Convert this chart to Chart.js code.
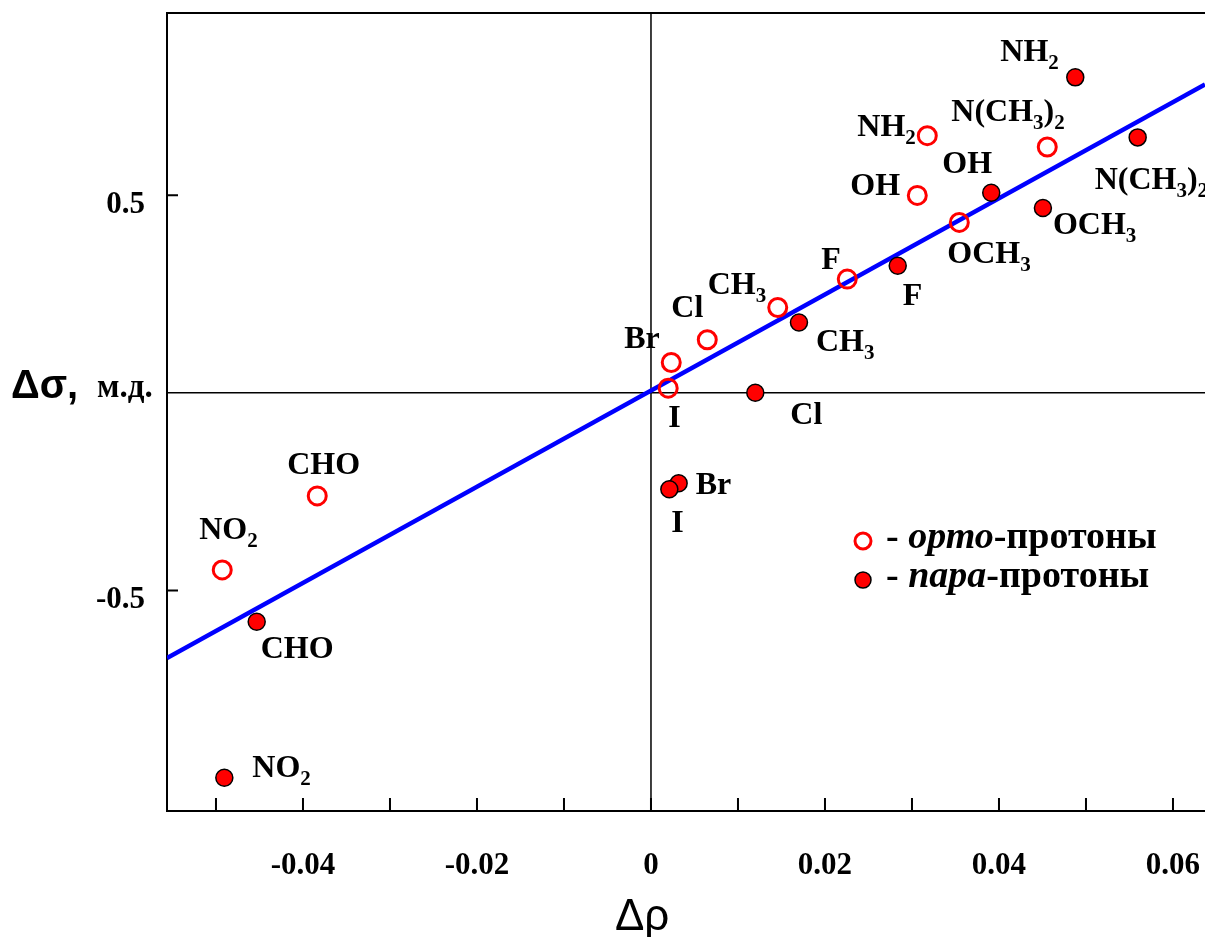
<!DOCTYPE html>
<html><head><meta charset="utf-8">
<script src="https://cdn.jsdelivr.net/npm/chart.js@4.4.0/dist/chart.umd.min.js"></script>
<style>html,body{margin:0;padding:0;background:#fff;overflow:hidden}canvas{display:block}</style>
</head><body>
<canvas id="c" width="1205" height="937"></canvas>
<script>
// ---- data ----
const substituents = ['NH_2','N(CH_3)_2','OH','OCH_3','F','CH_3','Cl','Br','I','CHO','NO_2'];
const orthoX = [0.03176, 0.04555, 0.03061, 0.03544, 0.02256, 0.01457, 0.00647, 0.00233, 0.00198, -0.03836, -0.04928];
const orthoY = [0.6506, 0.622, 0.4995, 0.4311, 0.2878, 0.2159, 0.1342, 0.0767, 0.0119, -0.2608, -0.4481];
const paraX  = [0.04877, 0.05594, 0.03911, 0.04505, 0.02836, 0.01701, 0.01199, 0.00318, 0.00211, -0.04532, -0.04904];
const paraY  = [0.7982, 0.6463, 0.5063, 0.4676, 0.3215, 0.178, 0.0, -0.2286, -0.2438, -0.579, -0.974];
const fitX = [-0.05563, 0.06368];
const fitY = [-0.671, 0.780];
const xTickValues = [-0.05,-0.04,-0.03,-0.02,-0.01,0,0.01,0.02,0.03,0.04,0.05,0.06];
const xTickLabels = ['','-0.04','','-0.02','','0','','0.02','','0.04','','0.06'];
const yTickValues = [-0.5, 0.5];
const yTickLabels = ['-0.5', '0.5'];
const xTitle = 'Δρ';
const yTitle = 'Δσ,';
const yUnit = 'м.д.';
const legendItems = [['- ', 'орто', '-протоны'], ['- ', 'пара', '-протоны']];

// ---- label placement (pixel offsets from point: text left, baseline) ----
const orthoOffsets = [[-70,0],[-96,-26],[-67,0],[-12,41],[-26,-10],[-70,-13],[-36,-23],[-47,-15],[0,39],[-30,-22],[-23,-31]];
const paraOffsets  = [[-75,-16],[-43,52],[-49,-20],[10,26],[5,39],[17,29],[35,31],[17,11],[2,43],[4,36],[28,-1]];

const SERIF = '"Liberation Serif", "Times New Roman", serif';
const SANS = '"Liberation Sans", Arial, sans-serif';

function drawRich(ctx, str, x, y, size, subSize, subDy) {
  let cx = x;
  for (let i = 0; i < str.length; i++) {
    let ch = str[i], sub = false;
    if (ch === '_') { sub = true; ch = str[++i]; }
    ctx.font = 'bold ' + (sub ? subSize : size) + 'px ' + SERIF;
    ctx.fillText(ch, cx, y + (sub ? subDy : 0));
    cx += ctx.measureText(ch).width;
  }
}

function noPad(s) { s.paddingLeft = 0; s.paddingRight = 0; s.paddingTop = 0; s.paddingBottom = 0; }

const framePlugin = {
  id: 'frame',
  beforeDatasetsDraw(chart) {
    const {ctx, chartArea: a, scales: {x, y}} = chart;
    ctx.save();
    ctx.strokeStyle = '#000';
    ctx.lineWidth = 2;
    ctx.beginPath();
    ctx.moveTo(a.right + 2, a.top); ctx.lineTo(a.left, a.top); ctx.lineTo(a.left, a.bottom); ctx.lineTo(a.right + 2, a.bottom);
    ctx.stroke();
    ctx.lineWidth = 1.5;
    const x0 = x.getPixelForValue(0), y0 = y.getPixelForValue(0);
    ctx.beginPath();
    ctx.moveTo(x0, a.top); ctx.lineTo(x0, a.bottom);
    ctx.moveTo(a.left, y0); ctx.lineTo(a.right, y0);
    ctx.stroke();
    ctx.lineWidth = 2;
    ctx.beginPath();
    x.ticks.forEach(t => { const px = x.getPixelForValue(t.value); ctx.moveTo(px, a.bottom); ctx.lineTo(px, a.bottom - 13); });
    y.ticks.forEach(t => { const py = y.getPixelForValue(t.value); ctx.moveTo(a.left, py); ctx.lineTo(a.left + 11, py); });
    ctx.stroke();
    ctx.restore();
  },
  afterDatasetsDraw(chart) {
    const {ctx, scales: {x, y}} = chart;
    ctx.save();
    ctx.fillStyle = '#000';
    ctx.textBaseline = 'alphabetic';
    ctx.textAlign = 'left';
    substituents.forEach((s, i) => {
      const px = x.getPixelForValue(orthoX[i]), py = y.getPixelForValue(orthoY[i]);
      drawRich(ctx, s, px + orthoOffsets[i][0], py + orthoOffsets[i][1], 32, 21, 8);
      const qx = x.getPixelForValue(paraX[i]), qy = y.getPixelForValue(paraY[i]);
      drawRich(ctx, s, qx + paraOffsets[i][0], qy + paraOffsets[i][1], 32, 21, 8);
    });
    const x0 = x.getPixelForValue(0), y0 = y.getPixelForValue(0);
    ctx.font = '44px ' + SANS;
    ctx.fillText(xTitle, x0 - 36, 930);
    ctx.font = 'bold 40px ' + SANS;
    ctx.fillText(yTitle, 11, y0 + 5);
    ctx.font = 'bold 33px ' + SERIF;
    ctx.fillText(yUnit, 97, y0 + 4);
    // legend
    const lx = 863, ly = [541, 580];
    ctx.beginPath(); ctx.arc(lx, ly[0], 8, 0, Math.PI * 2);
    ctx.strokeStyle = '#ff0000'; ctx.lineWidth = 3; ctx.stroke();
    ctx.beginPath(); ctx.arc(lx, ly[1], 8, 0, Math.PI * 2);
    ctx.fillStyle = '#ff0000'; ctx.fill(); ctx.strokeStyle = '#000'; ctx.lineWidth = 1.5; ctx.stroke();
    ctx.fillStyle = '#000';
    legendItems.forEach((it, k) => {
      let cx = 886;
      const by = ly[k] + 7;
      ctx.font = 'bold 38px ' + SERIF; ctx.fillText(it[0], cx, by); cx += ctx.measureText(it[0]).width;
      ctx.font = 'italic bold 38px ' + SERIF; ctx.fillText(it[1], cx, by); cx += ctx.measureText(it[1]).width;
      ctx.font = 'bold 38px ' + SERIF; ctx.fillText(it[2], cx, by);
    });
    ctx.restore();
  }
};

new Chart(document.getElementById('c').getContext('2d'), {
  type: 'scatter',
  data: {
    datasets: [
      { label: 'fit', data: fitX.map((v, i) => ({x: v, y: fitY[i]})), showLine: true,
        borderColor: '#0000ff', borderWidth: 4.5, pointRadius: 0, fill: false, order: 3 },
      { label: 'орто', data: orthoX.map((v, i) => ({x: v, y: orthoY[i]})),
        pointRadius: 9, pointBorderWidth: 3, pointBorderColor: '#ff0000', pointBackgroundColor: 'rgba(255,255,255,0)', order: 1 },
      { label: 'пара', data: paraX.map((v, i) => ({x: v, y: paraY[i]})),
        pointRadius: 8.5, pointBorderWidth: 1.5, pointBorderColor: '#000', pointBackgroundColor: '#ff0000', order: 2 }
    ]
  },
  options: {
    responsive: false, animation: false, devicePixelRatio: 1,
    layout: {autoPadding: false, padding: {top: 13, left: 0, right: 0, bottom: 0}},
    plugins: {legend: {display: false}, tooltip: {enabled: false}},
    scales: {
      x: {
        type: 'linear', min: -0.05563, max: 0.06368,
        grid: {display: false, drawTicks: false}, border: {display: false},
        afterBuildTicks: s => { s.ticks = xTickValues.map(v => ({value: v})); },
        afterFit: s => { s.height = 126; noPad(s); },
        ticks: {autoSkip: false, maxRotation: 0, padding: 36, color: '#000',
          font: {family: SERIF, size: 31, weight: 'bold'},
          callback: (v, i) => xTickLabels[i]}
      },
      y: {
        type: 'linear', min: -1.058, max: 0.961,
        grid: {display: false, drawTicks: false}, border: {display: false},
        afterBuildTicks: s => { s.ticks = yTickValues.map(v => ({value: v})); },
        afterFit: s => { s.width = 167; noPad(s); },
        ticks: {autoSkip: false, padding: 22, labelOffset: 10, color: '#000',
          font: {family: SERIF, size: 31, weight: 'bold'},
          callback: (v, i) => yTickLabels[i]}
      }
    }
  },
  plugins: [framePlugin]
});
</script>
</body></html>
